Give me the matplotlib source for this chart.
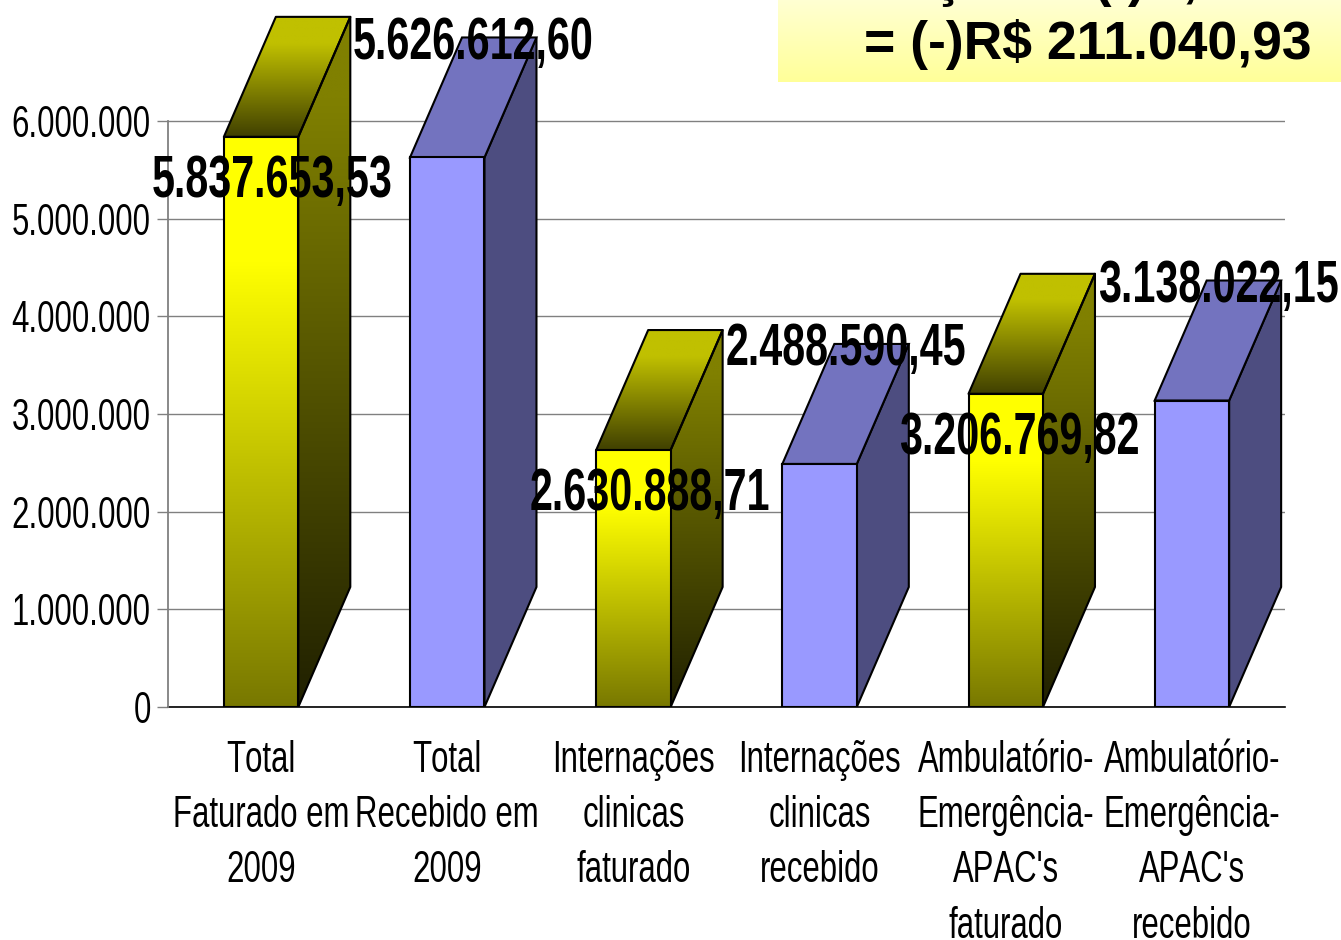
import os
import numpy as np
import matplotlib
matplotlib.use("Agg")
import matplotlib.pyplot as plt
from matplotlib.patches import Polygon
from matplotlib import font_manager as fm
from matplotlib.colors import LinearSegmentedColormap as LSC
from fontTools.ttLib import TTFont

categories = ["Total\nFaturado em\n2009", "Total\nRecebido em\n2009",
              "Internações\nclinicas\nfaturado", "Internações\nclinicas\nrecebido",
              "Ambulatório-\nEmergência-\nAPAC's\nfaturado", "Ambulatório-\nEmergência-\nAPAC's\nrecebido"]
values = [5837653.53, 5626612.60, 2630888.71, 2488590.45, 3206769.82, 3138022.15]
value_labels = ["5.837.653,53", "5.626.612,60", "2.630.888,71", "2.488.590,45", "3.206.769,82", "3.138.022,15"]
y_ticks = [0, 1000000, 2000000, 3000000, 4000000, 5000000, 6000000]
y_tick_labels = ["0", "1.000.000", "2.000.000", "3.000.000", "4.000.000", "5.000.000", "6.000.000"]
label_offsets_px = [(11, -45), (26, 114), (16, -44), (26, 114), (14, -45), (26, 114)]


def condensed(weight, factor, family):
    """Build a horizontally narrowed copy of Liberation Sans so labels stay real text."""
    src = fm.findfont(fm.FontProperties(family='Liberation Sans', weight=weight))
    f = TTFont(src)
    glyf = f['glyf']
    for name in glyf.keys():
        g = glyf[name]
        if g.isComposite():
            for c in g.components:
                c.x = int(round(c.x * factor))
        elif g.numberOfContours > 0:
            coords = g.coordinates
            for k in range(len(coords)):
                coords[k] = (int(round(coords[k][0] * factor)), coords[k][1])
        if hasattr(g, 'program'):
            g.program.fromBytecode(b'')
    for name in glyf.keys():
        g = glyf[name]
        if g.numberOfContours != 0:
            g.recalcBounds(glyf)
    hmtx = f['hmtx']
    for name, (adv, lsb) in list(hmtx.metrics.items()):
        hmtx.metrics[name] = (int(round(adv * factor)), int(round(lsb * factor)))
    for tag in ('fpgm', 'prep', 'cvt ', 'hdmx', 'VDMX', 'LTSH', 'kern', 'GPOS', 'GSUB', 'GDEF'):
        if tag in f:
            del f[tag]
    for rec in f['name'].names:
        if rec.nameID in (1, 4, 16):
            rec.string = family
        elif rec.nameID == 6:
            rec.string = family.replace(' ', '')
    path = os.path.abspath(family.replace(' ', '') + '.ttf')
    f.save(path)
    fm.fontManager.addfont(path)
    return fm.FontProperties(fname=path)


REG = condensed('normal', 0.69, 'Chart Narrow')
BOLD = condensed('bold', 0.69, 'Chart Narrow Bold')

W, H = 1341, 940
fig = plt.figure(figsize=(W/100, H/100), dpi=100, facecolor='white')
ax = fig.add_axes([168/W, (H-707)/H, (1285-168)/W, 707/H])
ax.set_xlim(-0.5, 5.5)
ax.set_ylim(0, 707/586*6e6)
ax.patch.set_visible(False)
for s in ('top', 'right', 'bottom'):
    ax.spines[s].set_visible(False)
ax.spines['left'].set_bounds(0, 6e6)
ax.spines['left'].set_color('#808080')
ax.spines['left'].set_linewidth(1.3)
ax.set_yticks(y_ticks, y_tick_labels)
ax.set_xticks(range(6), categories)
for t in ax.get_yticklabels():
    t.set_fontproperties(REG)
    t.set_fontsize(32.5)
for t in ax.get_xticklabels():
    t.set_fontproperties(REG)
    t.set_fontsize(32.5)
    t.set_linespacing(1.44)
ax.tick_params(axis='y', length=8, color='#808080', width=1.0, pad=4.4)
ax.tick_params(axis='x', length=0, pad=24)
ax.yaxis.grid(True, color='#808080', lw=1.0, zorder=0)
ax.set_axisbelow(True)
ax.axhline(0, color='black', lw=1.2, zorder=1, clip_on=False)

WIDTH = 0.4
DX = 52/186.2
DY = 120/586*6e6
LW = 1.5


def grad(poly, top, bot, z, flat):
    ys = [p[1] for p in poly]
    xs = [p[0] for p in poly]
    cm = LSC.from_list('g', [(0, bot), (1-flat, top), (1, top)])
    im = ax.imshow(np.linspace(1, 0, 256).reshape(-1, 1), cmap=cm, vmin=0, vmax=1, aspect='auto',
                   extent=(min(xs), max(xs), min(ys), max(ys)), zorder=z, interpolation='bilinear')
    p = Polygon(poly, closed=True, fc='none', ec='black', lw=LW, zorder=z+0.1, joinstyle='round')
    ax.add_patch(p)
    im.set_clip_path(p)


for i, v in enumerate(values):
    l, r = i-WIDTH/2, i+WIDTH/2
    front = [(l, 0), (r, 0), (r, v), (l, v)]
    side = [(r, 0), (r+DX, DY), (r+DX, v+DY), (r, v)]
    top = [(l, v), (r, v), (r+DX, v+DY), (l+DX, v+DY)]
    if i % 2 == 0:
        grad(side, '#808000', '#202000', 3, 0.12)
        grad(top, '#C0C000', '#404000', 3, 0.22)
        grad(front, '#FFFF00', '#787800', 4, 0.22)
    else:
        ax.add_patch(Polygon(side, fc='#4D4D80', ec='black', lw=LW, zorder=3))
        ax.add_patch(Polygon(top, fc='#7373BF', ec='black', lw=LW, zorder=3))
        ax.add_patch(Polygon(front, fc='#9999FF', ec='black', lw=LW, zorder=4))
    ax.annotate(value_labels[i], (i, v), xytext=(label_offsets_px[i][0]*0.72, label_offsets_px[i][1]*0.72),
                textcoords='offset points', ha='center', va='center', fontproperties=BOLD,
                fontsize=43, color='black', zorder=6)
ax.set_xlim(-0.5, 5.5)
ax.set_ylim(0, 707/586*6e6)

box = fig.add_axes([778/W, (H-82)/H, (W-778)/W, 82/H], zorder=5)
box.axis('off')
box.imshow(np.linspace(0, 1, 64).reshape(-1, 1), aspect='auto', extent=(0, 1, 0, 1),
           cmap=LSC.from_list('b', ['#FFFFD2', '#FFFF99']))
fig.text(1088/W, (H-44)/H, "= (-)R$ 211.040,93", family='Liberation Sans', weight='bold',
         fontsize=38.5, ha='center', va='center', zorder=7)
for x, s in [(948, "ç"), (1120, "(-)"), (1190, ",")]:
    fig.text(x/W, (H+18)/H, s, family='Liberation Sans', weight='bold', fontsize=38,
             ha='center', va='center', zorder=7)
fig.savefig('out.png', dpi=100)
